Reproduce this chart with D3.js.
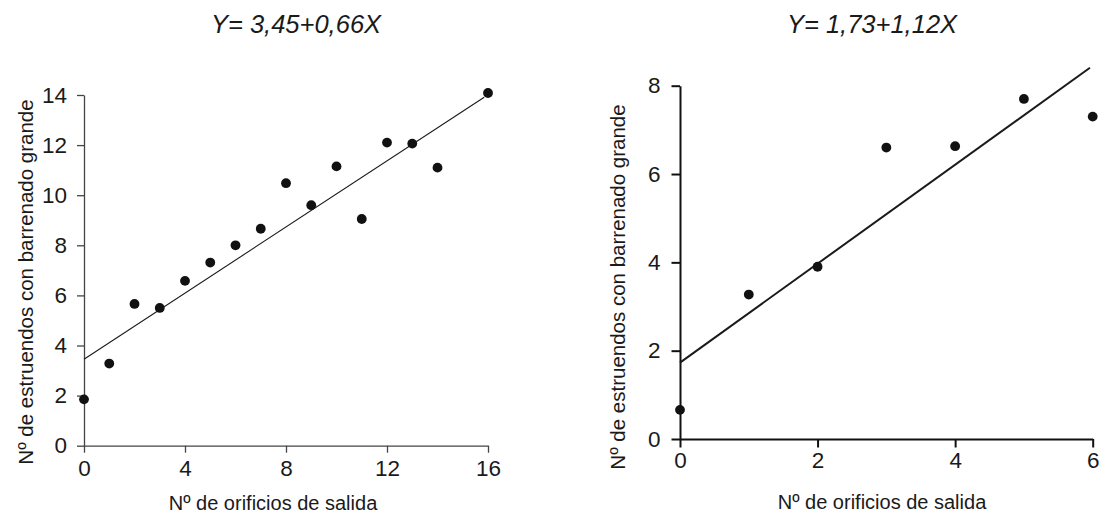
<!DOCTYPE html>
<html><head><meta charset="utf-8">
<script src="https://cdn.jsdelivr.net/npm/d3@7"></script>
<style>
html,body{margin:0;padding:0;background:#fff;}
text{font-family:"Liberation Sans",Arial,Helvetica,sans-serif;fill:#1a1a1a;}
</style></head>
<body>
<svg id="c" width="1113" height="521"></svg>
<script>
// ---- data ----
const leftX = [0,1,2,3,4,5,6,7,8,9,10,11,12,13,14,16];
const leftY = [1.85,3.28,5.66,5.5,6.58,7.31,8.0,8.66,10.48,9.6,11.15,9.05,12.1,12.06,11.1,14.08];
const leftXTicks = [0,4,8,12,16];
const leftYTicks = [0,2,4,6,8,10,12,14];
const leftFit = {a:3.45, b:0.66, xEnd:15.85};
const leftTitle = "Y= 3,45+0,66X";

const rightX = [0,1,2,3,4,5,6];
const rightY = [0.66,3.27,3.9,6.6,6.63,7.7,7.3];
const rightXTicks = [0,2,4,6];
const rightYTicks = [0,2,4,6,8];
const rightFit = {a:1.73, b:1.12, xEnd:5.96};
const rightTitle = "Y= 1,73+1,12X";

const xLabel = "Nº de orificios de salida";
const yLabel = "Nº de estruendos con barrenado grande";

const svg = d3.select("#c");

function panel(cfg){
  const g = svg.append("g");
  const x = d3.scaleLinear().domain(cfg.xDom).range(cfg.xR);
  const y = d3.scaleLinear().domain(cfg.yDom).range(cfg.yR);
  const ax = g.append("g").attr("transform",`translate(0,${cfg.yR[0]})`)
    .call(d3.axisBottom(x).tickValues(cfg.xTicks).tickSize(cfg.tick).tickSizeOuter(0).tickPadding(cfg.xPad).tickFormat(d3.format("d")));
  const ay = g.append("g").attr("transform",`translate(${cfg.xR[0]},0)`)
    .call(d3.axisLeft(y).tickValues(cfg.yTicks).tickSize(cfg.tick).tickSizeOuter(0).tickPadding(cfg.yPad).tickFormat(d3.format("d")));
  [ax,ay].forEach(a=>{
    a.selectAll("path,line").attr("stroke",cfg.axisColor).attr("stroke-width",cfg.axisW);
    a.selectAll("text").attr("font-size",22.5).attr("fill","#1a1a1a")
      .style("font-family",'"Liberation Sans",Arial,sans-serif');
  });
  // regression line
  const line = d3.line().x(d=>x(d)).y(d=>y(cfg.fit.a+cfg.fit.b*d));
  g.append("path").datum([0,cfg.fit.xEnd]).attr("d",line)
    .attr("fill","none").attr("stroke","#1a1a1a").attr("stroke-width",cfg.lineW);
  // points
  g.selectAll("circle.p").data(cfg.xs.map((v,i)=>[v,cfg.ys[i]])).enter().append("circle")
    .attr("cx",d=>x(d[0])).attr("cy",d=>y(d[1])).attr("r",4.9).attr("fill","#111");
  // title
  g.append("text").attr("x",cfg.titleX).attr("y",33).attr("text-anchor","middle")
    .attr("font-size",25.5).attr("font-style","italic").text(cfg.title);
  // x label
  g.append("text").attr("x",cfg.xLabX).attr("y",cfg.xLabY).attr("text-anchor","middle")
    .attr("font-size",20).text(xLabel);
  // y label
  g.append("text").attr("transform",`translate(${cfg.yLabX},${cfg.yLabY}) rotate(-90)`)
    .attr("text-anchor","middle").attr("font-size",20.5).text(yLabel);
}

panel({xs:leftX, ys:leftY, xDom:[0,16], yDom:[0,14], xR:[84,488], yR:[445.7,95],
  xTicks:leftXTicks, yTicks:leftYTicks, tick:7, xPad:7, yPad:10, axisColor:"#444", axisW:1.3,
  fit:leftFit, lineW:1.1, title:leftTitle, titleX:296, xLabX:273, xLabY:510, yLabX:33, yLabY:282});

panel({xs:rightX, ys:rightY, xDom:[0,6], yDom:[0,8], xR:[680,1092.7], yR:[439,85.7],
  xTicks:rightXTicks, yTicks:rightYTicks, tick:8.5, xPad:5, yPad:11, axisColor:"#111", axisW:2,
  fit:rightFit, lineW:2, title:rightTitle, titleX:872, xLabX:882, xLabY:509, yLabX:625, yLabY:287});
</script>
</body></html>
